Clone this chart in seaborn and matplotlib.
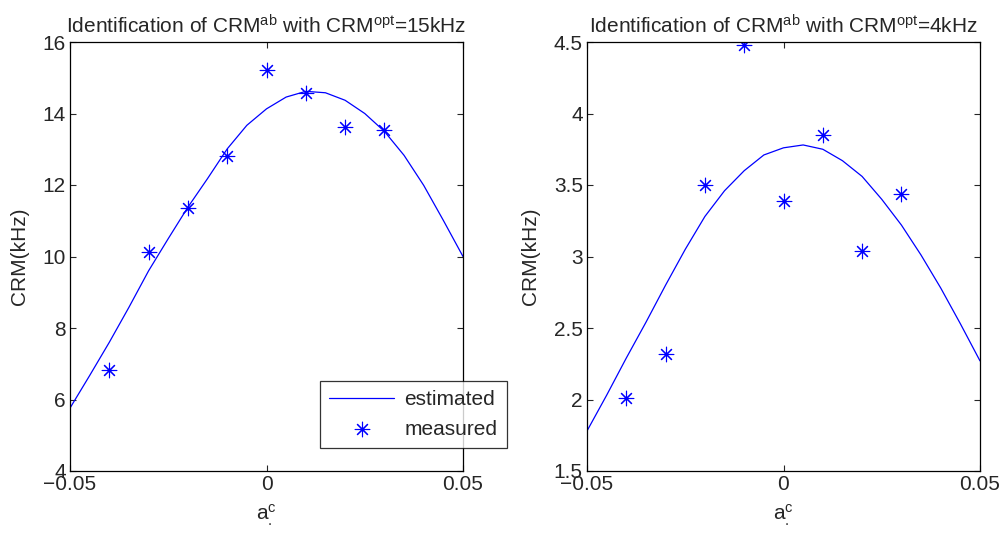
import numpy as np
import pandas as pd
import matplotlib
matplotlib.use('Agg')
import matplotlib.pyplot as plt
import seaborn as sns

# measured points (a^c, CRM in kHz)
a_meas = [-0.04, -0.03, -0.02, -0.01, 0.0, 0.01, 0.02, 0.03]
crm15_meas = [6.83, 10.12, 11.35, 12.80, 15.22, 14.58, 13.62, 13.54]
crm4_meas = [2.01, 2.32, 3.50, 4.48, 3.39, 3.85, 3.04, 3.44]

# estimated curves, read every 0.005
a_est = [-0.05, -0.045, -0.04, -0.035, -0.03, -0.025, -0.02, -0.015, -0.01, -0.005,
         0.0, 0.005, 0.01, 0.015, 0.02, 0.025, 0.03, 0.035, 0.04, 0.045, 0.05]
crm15_est = [5.76, 6.67, 7.60, 8.58, 9.60, 10.50, 11.38, 12.18, 13.01, 13.67,
             14.13, 14.46, 14.62, 14.58, 14.37, 14.00, 13.50, 12.83, 11.99, 11.01, 10.00]
crm4_est = [1.78, 2.03, 2.29, 2.54, 2.80, 3.05, 3.28, 3.46, 3.60, 3.71,
            3.76, 3.78, 3.75, 3.67, 3.56, 3.40, 3.22, 3.01, 2.78, 2.53, 2.27]

titles = ['Identification of CRM$^{\\mathrm{ab}}$ with CRM$^{\\mathrm{opt}}$=15kHz',
          'Identification of CRM$^{\\mathrm{ab}}$ with CRM$^{\\mathrm{opt}}$=4kHz']
yticks = [[4, 6, 8, 10, 12, 14, 16], [1.5, 2, 2.5, 3, 3.5, 4, 4.5]]
xticks = [-0.05, 0, 0.05]

sns.set_style('ticks')
plt.rcParams['font.family'] = ['Liberation Sans', 'DejaVu Sans']
plt.rcParams['mathtext.fontset'] = 'custom'
plt.rcParams['mathtext.rm'] = 'Liberation Sans'
plt.rcParams['mathtext.it'] = 'Liberation Sans'
plt.rcParams['axes.unicode_minus'] = True

fs = 15
fig = plt.figure(figsize=(10.08, 5.38), dpi=100)
ax1 = fig.add_axes([70/1008, 67/538, 393/1008, 429/538])
ax2 = fig.add_axes([587/1008, 67/538, 393/1008, 429/538])

star = (8, 2, 0)
for ax, est, meas, title, yt in zip([ax1, ax2], [crm15_est, crm4_est],
                                     [crm15_meas, crm4_meas], titles, yticks):
    sns.lineplot(x=a_est, y=est, ax=ax, color='blue', linewidth=0.9,
                 label='estimated', sort=False)
    sns.scatterplot(x=a_meas, y=meas, ax=ax, marker=star, color='blue',
                    edgecolor='blue', s=110, linewidth=0.8, label='measured')
    ax.set_xlim(-0.05, 0.05)
    ax.set_ylim(yt[0], yt[-1])
    ax.set_xticks(xticks)
    ax.set_xticklabels(['\u22120.05', '0', '0.05'])
    ax.set_yticks(yt)
    ax.set_yticklabels(['%g' % v for v in yt])
    ax.tick_params(direction='in', top=True, right=True, labelsize=fs,
                   length=4, width=0.8, pad=3)
    for sp in ax.spines.values():
        sp.set_linewidth(0.9)
        sp.set_color('black')
    ax.set_title(title, fontsize=fs, pad=6)
    ax.set_xlabel('a$_{.}^{\\mathrm{c}}$', fontsize=fs, labelpad=6)
    ax.set_ylabel('CRM(kHz)', fontsize=fs, labelpad=10)
    ax.get_legend().remove()

h, l = ax1.get_legend_handles_labels()
leg = fig.legend(h, l, loc='lower left', bbox_to_anchor=(320/1008, 90/538),
                 fontsize=fs, frameon=True, fancybox=False, edgecolor='black',
                 handlelength=3.1, handletextpad=0.5, borderpad=0.45,
                 labelspacing=0.5, borderaxespad=0)
leg.get_frame().set_linewidth(0.9)

fig.savefig('out.png', dpi=100)
